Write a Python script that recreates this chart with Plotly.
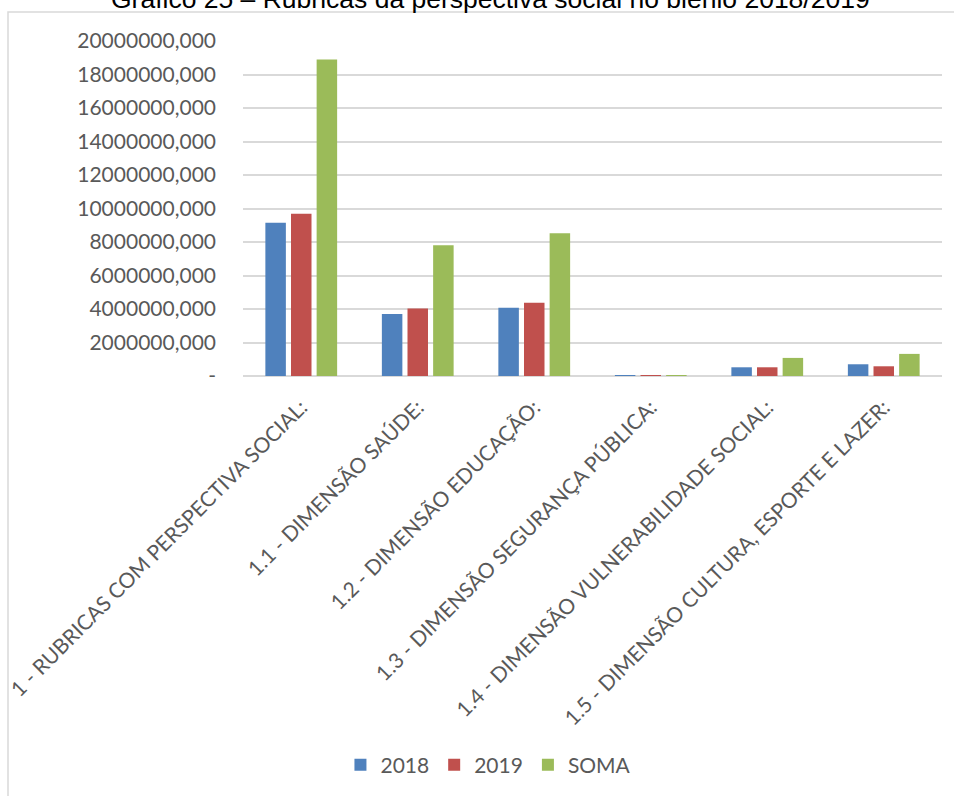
import plotly.graph_objects as go

categories = [
    "1 - RUBRICAS COM PERSPECTIVA SOCIAL:",
    "1.1 - DIMENSÃO SAÚDE:",
    "1.2 - DIMENSÃO EDUCAÇÃO:",
    "1.3 - DIMENSÃO SEGURANÇA PÚBLICA:",
    "1.4 - DIMENSÃO VULNERABILIDADE SOCIAL:",
    "1.5 - DIMENSÃO CULTURA, ESPORTE E LAZER:",
]
v2018 = [9150000, 3700000, 4070000, 25000, 520000, 700000]
v2019 = [9680000, 4030000, 4370000, 20000, 520000, 580000]
vsoma = [18900000, 7800000, 8520000, 45000, 1080000, 1320000]

tick_vals = [0, 2000000, 4000000, 6000000, 8000000, 10000000, 12000000,
             14000000, 16000000, 18000000, 20000000]
tick_text = ["-", "2000000,000", "4000000,000", "6000000,000", "8000000,000",
             "10000000,000", "12000000,000", "14000000,000", "16000000,000",
             "18000000,000", "20000000,000"]

title_text = "Gráfico 25 – Rubricas da perspectiva social no biênio 2018/2019"

FONT = "Lato"
GRAY = "#595959"

fig = go.Figure()
for name, vals, col in [("2018", v2018, "#4F81BD"), ("2019", v2019, "#C0504D"), ("SOMA", vsoma, "#9BBB59")]:
    fig.add_trace(go.Bar(x=categories, y=vals, name=name, marker_color=col,
                         marker_line_width=0))

W, H = 954, 796
L, R, T, B = 243, 12, 41, 420
pw, ph = W - L - R, H - T - B

def px_to_paper_x(px):
    return (px - L) / pw

def px_to_paper_y(py):
    return (H - B - py) / ph

fig.update_layout(
    width=W, height=H,
    margin=dict(l=L, r=R, t=T, b=B, autoexpand=False),
    paper_bgcolor="white", plot_bgcolor="white",
    barmode="group", bargap=0.34, bargroupgap=0.2,
    font=dict(family=FONT, color=GRAY, size=21),
    showlegend=True,
    legend=dict(orientation="h", xref="container", yref="container",
                x=0.512, y=1 - 765 / H, xanchor="center", yanchor="middle",
                font=dict(size=21, color=GRAY), itemwidth=30,
                traceorder="normal"),
    xaxis=dict(tickangle=-45, showgrid=False, ticks="", showline=False,
               zeroline=False, ticklabelstandoff=14,
               tickfont=dict(size=21, color=GRAY)),
    yaxis=dict(range=[0, 20000000], tickvals=tick_vals, ticktext=tick_text,
               showgrid=True, gridcolor="#d9d9d9", gridwidth=1.5,
               zeroline=True, zerolinecolor="#d9d9d9", zerolinewidth=1.5,
               showline=False, ticks="", ticklabelstandoff=26,
               tickfont=dict(size=21, color=GRAY)),
    shapes=[dict(type="rect", xref="paper", yref="paper",
                 x0=px_to_paper_x(8), x1=px_to_paper_x(1000),
                 y0=px_to_paper_y(850), y1=px_to_paper_y(12),
                 line=dict(color="#d9d9d9", width=1.5), fillcolor="rgba(0,0,0,0)",
                 layer="below")],
    annotations=[dict(text=title_text, xref="paper", yref="paper",
                      x=px_to_paper_x(490), y=px_to_paper_y(16),
                      xanchor="center", yanchor="bottom", showarrow=False,
                      font=dict(family="Liberation Sans", size=26.5, color="#000000"))],
)

fig.write_html("out.html")
